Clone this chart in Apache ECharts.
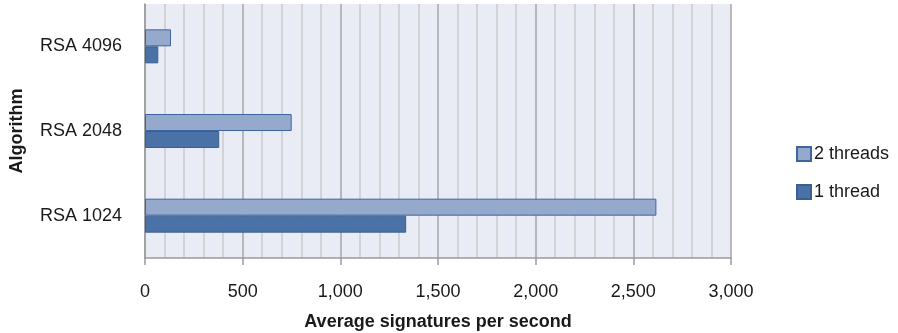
<!DOCTYPE html>
<html>
<head>
<meta charset="utf-8">
<script src="https://cdn.jsdelivr.net/npm/echarts@6/dist/echarts.min.js"></script>
<style>html,body{margin:0;padding:0;background:#fff;}#c{width:898px;height:333px;}</style>
</head>
<body>
<div id="c"></div>
<script>
const categories = ['RSA 1024', 'RSA 2048', 'RSA 4096'];
const oneThread = [1337, 380, 68];
const twoThreads = [2618, 751, 133];
const xTicks = { min: 0, max: 3000, interval: 500 };
const seriesNames = ['1 thread', '2 threads'];
const xTitle = 'Average signatures per second';
const yTitle = 'Algorithm';

const font = '"Liberation Sans", Arial, sans-serif';
const chart = echarts.init(document.getElementById('c'), null, { renderer: 'canvas' });
chart.setOption({
  animation: false,
  textStyle: { fontFamily: font },
  grid: { left: 145, right: 167, top: 4, bottom: 75, show: true, backgroundColor: '#E9ECF4', borderWidth: 0,
    containLabel: false, outerBoundsMode: 'none' },
  legend: {
    orient: 'vertical', left: 791, top: 140, itemGap: 20,
    itemWidth: 14, itemHeight: 14,
    data: [seriesNames[1], seriesNames[0]],
    textStyle: { fontFamily: font, fontSize: 18, color: '#1a1a1a', padding: [0,0,0,-2] },
    icon: 'rect'
  },
  xAxis: {
    type: 'value', min: xTicks.min, max: xTicks.max, interval: xTicks.interval,
    name: xTitle, nameLocation: 'middle', nameGap: 55,
    nameTextStyle: { fontFamily: font, fontSize: 18, fontWeight: 'bold', color: '#1a1a1a' },
    axisLine: { show: true, lineStyle: { color: '#9A9A9A', width: 1.5 } },
    axisTick: { show: true, length: 7, lineStyle: { color: '#9A9A9A', width: 1.5 } },
    axisLabel: { fontFamily: font, fontSize: 18, color: '#1a1a1a', margin: 25,
      formatter: v => v.toLocaleString('en-US') },
    splitLine: { show: true, lineStyle: { color: '#A6A6A6', width: 1.5 } },
    minorTick: { show: false, splitNumber: 5 },
    minorSplitLine: { show: true, lineStyle: { color: '#CACACA', width: 1.5 } }
  },
  yAxis: {
    type: 'category', data: categories,
    name: yTitle, nameLocation: 'middle', nameGap: 119, nameRotate: 90,
    nameTextStyle: { fontFamily: font, fontSize: 18, fontWeight: 'bold', color: '#1a1a1a' },
    axisLine: { show: true, lineStyle: { color: '#9A9A9A', width: 1.5 } },
    axisTick: { show: false },
    axisLabel: { fontFamily: font, fontSize: 18, color: '#1a1a1a', margin: 23 },
    splitLine: { show: false }
  },
  series: [
    { name: seriesNames[1], type: 'bar', data: twoThreads, barWidth: 17, barGap: '0%',
      itemStyle: { color: '#95A9CC', borderColor: '#3F65A0', borderWidth: 1 } },
    { name: seriesNames[0], type: 'bar', data: oneThread, barWidth: 17, barGap: '0%',
      itemStyle: { color: '#4A72A6', borderColor: '#3B5F92', borderWidth: 1 } }
  ]
});
</script>
</body>
</html>
